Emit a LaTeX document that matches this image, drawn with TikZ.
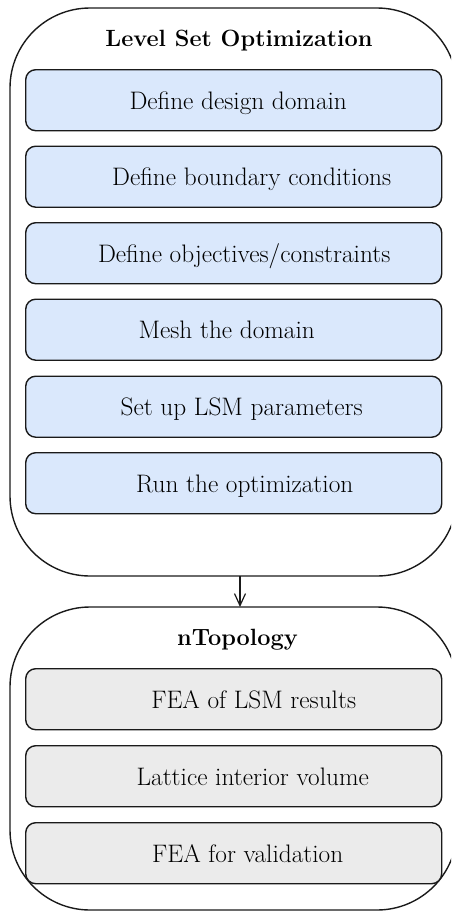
\documentclass[tikz,border=0pt]{standalone}
\usetikzlibrary{arrows.meta}
\definecolor{boxblue}{HTML}{DAE8FC}
\definecolor{boxgray}{HTML}{EBEBEB}
\definecolor{edge}{HTML}{1A1A1A}
\begin{document}
\begin{tikzpicture}[x=1pt,y=-1pt,
  group/.style={draw=edge,line width=1.4pt,rounded corners=80pt},
  stepbox/.style={draw=edge,line width=1.4pt,rounded corners=10pt,minimum width=416pt,minimum height=61pt,inner sep=0pt,anchor=north west},
  blue/.style={stepbox,fill=boxblue},
  gray/.style={stepbox,fill=boxgray},
  txt/.style={anchor=base,inner sep=0pt,font=\fontsize{25.3}{30}\selectfont},
  ttl/.style={anchor=base,inner sep=0pt,font=\fontsize{23.5}{28}\selectfont\bfseries},
  conn/.style={draw=edge,line width=1.2pt,-{Straight Barb[length=12pt,width=11pt,line width=1.2pt]}}]
\clip (0,0) rectangle (451,911);
\useasboundingbox (0,0) rectangle (451,911);
% groups
\draw[group] (10,8) rectangle (457,576);
\draw[group] (10,607) rectangle (457,910);
\coordinate (g1b) at (240,576);
\coordinate (g2t) at (240,607);
\draw[conn] (g1b) -- (g2t);
% titles
\node[ttl] (t1) at (239,46.5) {Level Set Optimization};
\node[ttl] (t2) at (237.5,645) {nTopology};
% blue steps
\node[blue] (b1) at (25,69) {};
\node[blue] (b2) at (25,145.5) {};
\node[blue] (b3) at (25,222) {};
\node[blue] (b4) at (25,298.5) {};
\node[blue] (b5) at (25,375.5) {};
\node[blue] (b6) at (25,452) {};
\node[txt] (l1) at ([xshift=4.5pt,yshift=-9pt]b1.center) {Define design domain};
\node[txt] (l2) at ([xshift=18pt,yshift=-9pt]b2.center) {Define boundary conditions};
\node[txt] (l3) at ([xshift=10.5pt,yshift=-9pt]b3.center) {Define objectives/constraints};
\node[txt] (l4) at ([xshift=-7pt,yshift=-9pt]b4.center) {Mesh the domain};
\node[txt] (l5) at ([xshift=8pt,yshift=-9pt]b5.center) {Set up LSM parameters};
\node[txt] (l6) at ([xshift=11pt,yshift=-9pt]b6.center) {Run the optimization};
% gray steps
\node[gray] (c1) at (25,668) {};
\node[gray] (c2) at (25,745) {};
\node[gray] (c3) at (25,822) {};
\node[txt] (m1) at ([xshift=20pt,yshift=-9pt]c1.center) {FEA of LSM results};
\node[txt] (m2) at ([xshift=19pt,yshift=-9pt]c2.center) {Lattice interior volume};
\node[txt] (m3) at ([xshift=14pt,yshift=-9pt]c3.center) {FEA for validation};
\end{tikzpicture}
\end{document}
